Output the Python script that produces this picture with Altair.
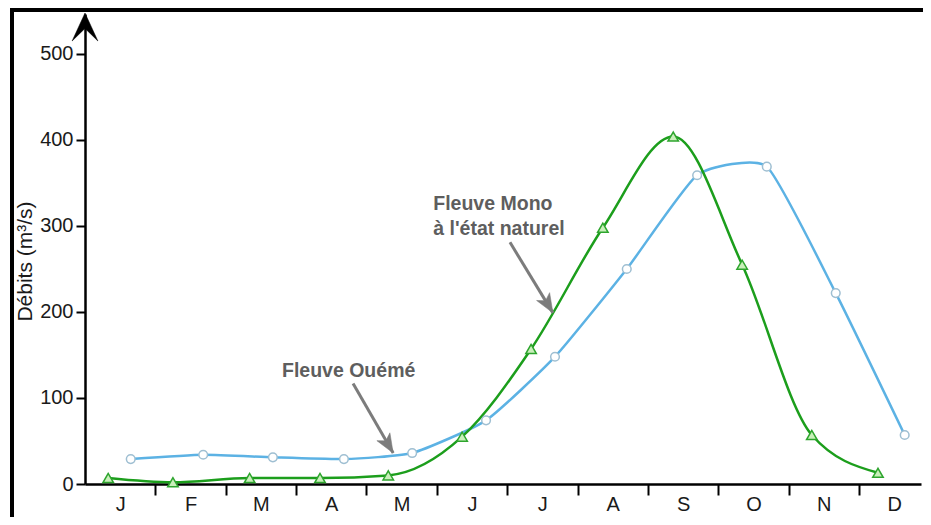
import altair as alt
import pandas as pd

# ---------------- data ----------------
months = ["J", "F", "M", "A", "M", "J", "J", "A", "S", "O", "N", "D"]

# Fleuve Ouémé (blue, circles) : position along the year (month units) and discharge
oueme_x = [0.65, 1.68, 2.67, 3.68, 4.65, 5.70, 6.68, 7.70, 8.70, 9.69, 10.67, 11.65]
oueme_q = [29, 34, 31, 29, 36, 74, 148, 250, 359, 369, 222, 57]

# Fleuve Mono à l'état naturel (green, triangles)
mono_x = [0.33, 1.25, 2.34, 3.34, 4.31, 5.36, 6.34, 7.36, 8.36, 9.34, 10.33, 11.27]
mono_q = [7, 2, 7, 7, 10, 55, 157, 298, 404, 255, 57, 13]

# annotation labels (data units)
label_text = ["Fleuve Mono", "à l'état naturel", "Fleuve Ouémé"]
label_x = [4.95, 4.95, 2.80]
label_q = [325, 297, 131]

# annotation arrows: start -> tip (data units)
arrow_x = [6.04, 3.81]
arrow_q = [281, 117]
arrow_x2 = [6.65, 4.38]
arrow_q2 = [199, 36]

y_ticks = [0, 100, 200, 300, 400, 500]

# ---------------- layout ----------------
W, H = 836, 470
PAD = {"left": 77, "top": 6, "right": 2, "bottom": 33}
MONTH_PX = 70.36
XMAX = W / MONTH_PX
YMAX = 546.5

oueme = pd.DataFrame({"x": oueme_x, "q": oueme_q})
mono = pd.DataFrame({"x": mono_x, "q": mono_q})
labels = pd.DataFrame({"x": label_x, "q": label_q, "t": label_text})
arrows = pd.DataFrame({"x": arrow_x, "q": arrow_q, "x2": arrow_x2, "q2": arrow_q2})
one = pd.DataFrame({"a": [0]})

month_js = "[" + ",".join("'" + m + "'" for m in months) + "]"
x_values = sorted([i + 0.5 for i in range(12)] + list(range(1, 12)))

FONT = "Liberation Sans"

x_axis = alt.Axis(
    values=x_values,
    labelExpr="(datum.value % 1) == 0.5 ? " + month_js + "[floor(datum.value)] : ''",
    tickOpacity=alt.condition("(datum.value % 1) == 0", alt.value(1), alt.value(0)),
    tickSize=11,
    tickWidth=2,
    tickColor="black",
    domainColor="black",
    domainWidth=2.5,
    labelFont=FONT,
    labelFontSize=20,
    labelColor="#1a1a1a",
    labelPadding=-1,
    labelOverlap=False,
    labelFlush=False,
    grid=False,
    title=None,
)
y_axis = alt.Axis(
    values=y_ticks,
    tickSize=9,
    tickWidth=2,
    tickColor="black",
    domainColor="black",
    domainWidth=2.5,
    labelFont=FONT,
    labelFontSize=20,
    labelColor="#1a1a1a",
    labelPadding=3,
    labelFlush=False,
    grid=False,
    title="Débits (m³/s)",
    titleFont=FONT,
    titleFontSize=21,
    titleFontWeight="normal",
    titleColor="#1a1a1a",
    titleX=-50,
    titleY=247,
    titleAngle=-90,
    titleAlign="center",
    titleBaseline="bottom",
)
xs = alt.Scale(domain=[0, XMAX], nice=False, zero=False)
ys = alt.Scale(domain=[0, YMAX], nice=False, zero=True)


def X(f="x"):
    return alt.X(f + ":Q", scale=xs, axis=x_axis)


def Y(f="q"):
    return alt.Y(f + ":Q", scale=ys, axis=y_axis)


BLUE = "#5cb2e4"
GREEN = "#1c9e1c"
GREY = "#7c7c7c"

border_top = alt.Chart(one).mark_rule(color="black", strokeWidth=4, clip=False).encode(
    x=alt.value(-75), x2=alt.value(W + PAD["right"]), y=alt.value(-4)
)
border_left = alt.Chart(one).mark_rule(color="black", strokeWidth=4, clip=False).encode(
    x=alt.value(-73), y=alt.value(-6), y2=alt.value(H + PAD["bottom"])
)

blue_line = alt.Chart(oueme).mark_line(
    color=BLUE, strokeWidth=2.5, interpolate="cardinal", tension=0.5
).encode(x=X(), y=Y())
blue_pts = alt.Chart(oueme).mark_point(
    shape="circle", filled=True, fill="white", stroke="#9fbfd2", strokeWidth=1.5, size=75, opacity=1
).encode(x=X(), y=Y())

green_line = alt.Chart(mono).mark_line(color=GREEN, strokeWidth=2.5, interpolate="monotone").encode(x=X(), y=Y())
green_pts = alt.Chart(mono).mark_point(
    shape="triangle-up", filled=True, fill="#c9efba", stroke="#2ea52e", strokeWidth=1.5, size=110, opacity=1
).encode(x=X(), y=Y())

arrow_shafts = alt.Chart(arrows).mark_rule(color=GREY, strokeWidth=3).encode(
    x=X(), y=Y(), x2="x2:Q", y2="q2:Q"
)
arrow_heads = alt.Chart(arrows).mark_point(
    shape="M0,0 L0.4,1 L0,0.75 L-0.4,1 Z", filled=True, fill=GREY, stroke=GREY, strokeWidth=0.5,
    size=1444, angle=149, opacity=1
).encode(x=X("x2"), y=Y("q2"))

ann = alt.Chart(labels).mark_text(
    align="left", baseline="middle", font=FONT, fontSize=19.5, fontWeight="bold", color="#5e5e5e"
).encode(x=X(), y=Y(), text="t:N")

y_arrow = alt.Chart(one).mark_point(
    shape="M0,0 L0.46,1 L0,0.55 L-0.46,1 Z", filled=True, fill="black", stroke="black", strokeWidth=0.5,
    size=3136, opacity=1, clip=False
).encode(x=alt.value(0), y=alt.value(-1))

chart = alt.layer(
    border_top, border_left, blue_line, green_line, blue_pts, green_pts,
    arrow_shafts, arrow_heads, ann, y_arrow
).properties(
    width=W,
    height=H,
    autosize=alt.AutoSizeParams(type="none"),
    padding=PAD,
    background="white",
).configure_view(stroke=None)

chart.save("out.html", embed_options={"renderer": "svg", "actions": False})
